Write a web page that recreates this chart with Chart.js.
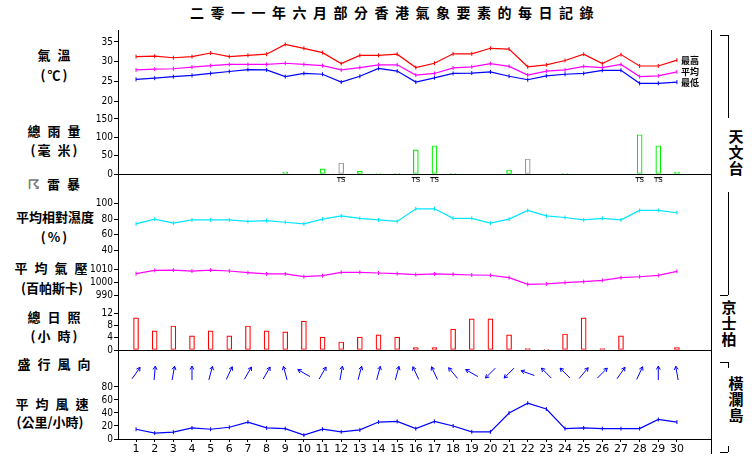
<!DOCTYPE html>
<html><head><meta charset="utf-8">
<script src="https://cdn.jsdelivr.net/npm/chart.js@4.4.0/dist/chart.umd.min.js"></script>
<style>
body{margin:0;background:#fff;width:754px;height:460px;position:relative;overflow:hidden;font-family:"Noto Sans CJK TC","Noto Sans CJK SC",sans-serif}
canvas{position:absolute;left:0}
.t{position:absolute;font-weight:bold;font-size:13px;color:#000;white-space:nowrap;text-align:center;line-height:14px;letter-spacing:2px}
.l{position:absolute;background:#000}
.v{position:absolute;font-weight:bold;font-size:15px;line-height:16px;width:18px;text-align:center}
.wk{position:absolute;left:80px;width:33px;text-align:right;font:10px "DejaVu Sans Condensed";line-height:10px;color:#000;z-index:10}
</style></head><body>
<div class="t" style="left:0;width:790px;top:5px;font-size:14px;letter-spacing:6.5px">二零一一年六月部分香港氣象要素的每日記錄</div>
<div class="t" style="left:20px;width:70px;top:48px">氣 溫</div>
<div class="t" style="left:20px;width:70px;top:68px">(℃)</div>
<div class="t" style="left:15px;width:80px;top:124px">總 雨 量</div>
<div class="t" style="left:15px;width:80px;top:143px">(毫 米)</div>
<div class="t" style="left:20px;width:70px;top:177px"><span style="color:#777">☈</span> 雷 暴</div>
<div class="t" style="left:5px;width:100px;top:210px;letter-spacing:0">平均相對濕度</div>
<div class="t" style="left:5px;width:100px;top:230px">(%)</div>
<div class="t" style="left:2px;width:100px;top:261px">平 均 氣 壓</div>
<div class="t" style="left:2px;width:100px;top:281px;letter-spacing:0">(百帕斯卡)</div>
<div class="t" style="left:15px;width:80px;top:310px">總 日 照</div>
<div class="t" style="left:15px;width:80px;top:329px">(小 時)</div>
<div class="t" style="left:10px;width:90px;top:357px">盛 行 風 向</div>
<div class="t" style="left:8px;width:90px;top:397px">平 均 風 速</div>
<div class="t" style="left:2px;width:96px;top:415px;letter-spacing:0">(公里/小時)</div>
<div class="l" style="left:711px;top:30px;width:1px;height:424px"></div>
<div class="l" style="left:118px;top:174px;width:593px;height:1px"></div>
<div class="l" style="left:118px;top:350px;width:593px;height:1px"></div>
<div class="l" style="left:720px;top:35px;width:8px;height:1px"></div>
<div class="l" style="left:728px;top:35px;width:1px;height:83px"></div>
<div class="l" style="left:728px;top:192px;width:1px;height:103px"></div>
<div class="l" style="left:720px;top:295px;width:8px;height:1px"></div>
<div class="l" style="left:720px;top:362px;width:8px;height:1px"></div>
<div class="l" style="left:728px;top:362px;width:1px;height:6px"></div>
<div class="l" style="left:720px;top:452px;width:8px;height:1px"></div>
<div class="l" style="left:728px;top:446px;width:1px;height:6px"></div>
<div class="v" style="left:727px;top:128px">天<br>文<br>台</div>
<div class="v" style="left:720px;top:299px">京<br>士<br>柏</div>
<div class="v" style="left:727px;top:375px">橫<br>瀾<br>島</div>
<div id="wlab"></div>
<canvas id="c1" width="712" height="77" style="top:30px"></canvas>
<canvas id="c2" width="712" height="79" style="top:101px"></canvas>
<canvas id="c3" width="712" height="21" style="top:174px"></canvas>
<canvas id="c4" width="712" height="67" style="top:195px"></canvas>
<canvas id="c5" width="712" height="49" style="top:262px"></canvas>
<canvas id="c6" width="712" height="51" style="top:305px"></canvas>
<canvas id="c7" width="712" height="33" style="top:350px"></canvas>
<canvas id="c9" width="712" height="21" style="top:439px"></canvas>
<canvas id="c8" width="712" height="62" style="top:383px;z-index:5"></canvas>
<script>
const days=[1,2,3,4,5,6,7,8,9,10,11,12,13,14,15,16,17,18,19,20,21,22,23,24,25,26,27,28,29,30];
const tempMax=[31.3,31.4,31.0,31.3,32.2,31.3,31.6,31.9,34.4,33.4,32.3,29.5,31.6,31.6,31.9,28.5,29.6,32.0,32.0,33.4,33.2,28.7,29.2,30.3,31.9,29.5,31.8,28.9,28.9,30.4];
const tempMean=[27.9,28.1,28.2,28.6,29.0,29.3,29.3,29.3,29.6,29.3,29.0,27.9,28.5,29.2,29.2,26.6,27.0,28.4,28.7,29.5,28.8,26.6,27.6,27.9,28.8,28.5,29.3,26.2,26.4,27.4];
const tempMin=[25.5,25.8,26.2,26.5,27.0,27.5,28.0,27.9,26.2,27.0,26.8,24.8,26.3,28.3,27.6,24.8,25.9,27.0,27.1,27.4,26.3,25.4,26.4,26.8,27.0,27.8,27.8,24.5,24.5,24.8];
const rain=[0,0,0,0,0,0,0,0,5,0,14,30,8,1,1,66,77,1,0,0,11,41,0,1,0,0,0,107,77,5];
const rainGrey=[12,22];
const thunderDays=[12,16,17,28,29];
const humidity=[74,80,75,79,79,79,77,78,76,74,80,84,81,79,77,93,93,81,81,75,80,91,84,82,79,81,79,91,91,88];
const pressure=[1006.5,1009,1009.2,1008.5,1009.2,1008.5,1007.3,1006.3,1006.3,1004.3,1005.0,1007.5,1007.5,1007,1006.5,1005.8,1006.3,1006.0,1005.5,1005.3,1003.5,998.5,998.8,999.8,1000.5,1001.5,1003.5,1004.2,1005.2,1008.3];
const sunshine=[10.4,6.2,7.8,4.6,6.2,4.6,7.8,6.2,5.9,9.4,4.2,2.6,4.2,4.9,4.2,0.8,0.8,6.8,10.1,10.1,4.9,0.5,0.2,5.2,10.4,0.5,4.6,0,0,0.8];
const windDir=[35,5,10,0,15,25,30,30,345,300,30,10,15,15,15,335,335,320,300,225,225,290,315,315,40,45,35,25,0,350];
const windSpeed=[15,9,10.5,17,15,18,26,17,16,6,15,11,14,26,27,16,27,20,11,11,40,55,46,16,17,16,16,16,30,26];
const tTicks=[20,25,30,35],rTicks=[0,50,100,150],hTicks=[40,60,80,100],pTicks=[990,1000,1010],sTicks=[0,4,8,12],wTicks=[0,20,40,60,80];

const XMIN=0.033,XMAX=31.88;
const pts=a=>a.map((v,i)=>({x:days[i],y:v}));
function yax(min,max,ticks,hide){return {type:'linear',display:true,min,max,afterFit:s=>{s.width=118;s.paddingTop=0;s.paddingBottom=0},afterBuildTicks:s=>{s.ticks=ticks?ticks.map(v=>({value:v})):[]},
 border:{display:true,color:'#000'},grid:{display:true,drawOnChartArea:false,drawTicks:true,tickLength:4,color:'#000'},
 ticks:{display:!hide,color:'#000',font:{size:10,family:'DejaVu Sans Condensed'},padding:1,autoSkip:false,source:'data',callback:v=>String(v)}};}
function xax(show){return show?{type:'linear',offset:false,min:XMIN,max:XMAX,afterFit:s=>{s.height=21;s.paddingLeft=0;s.paddingRight=0},afterBuildTicks:s=>{s.ticks=days.map(v=>({value:v}))},
 border:{display:true,color:'#000'},grid:{drawOnChartArea:false,tickLength:3,color:'#000'},ticks:{color:'#000',font:{size:11,family:'DejaVu Sans'},padding:1,maxRotation:0,autoSkip:false,source:'data'}}
 :{type:'linear',offset:false,min:XMIN,max:XMAX,display:false};}
function mk(id,type,datasets,y,showX,plugins,padB){
 return new Chart(document.getElementById(id),{type,data:{datasets},plugins:plugins||[],options:{responsive:false,animation:false,devicePixelRatio:1,
 layout:{padding:{top:0,left:0,right:0,bottom:padB||0},autoPadding:false},plugins:{legend:{display:false},tooltip:{enabled:false}},scales:{x:xax(showX),y}}});}
const ln=(d,c)=>({type:'line',data:pts(d),borderColor:c,borderWidth:1.2,pointStyle:'line',rotation:90,pointRadius:2,pointBorderColor:c,pointBorderWidth:1,tension:0});
const lbl={id:'lbl',afterDatasetsDraw(ch){const c=ch.ctx;c.save();c.font='bold 9px "Noto Sans CJK TC"';c.fillStyle='#000';c.textBaseline='middle';
 const x=ch.scales.x.getPixelForValue(30)+4,y=ch.scales.y;
 [['最高',tempMax[29]],['平均',tempMean[29]],['最低',tempMin[29]]].forEach(([t,v])=>c.fillText(t,x,y.getPixelForValue(v)));c.restore();}};
mk('c1','line',[ln(tempMax,'#ff0000'),ln(tempMean,'#ff00ff'),ln(tempMin,'#0000ff')],yax(20,38.05,tTicks),false,[lbl],6);
mk('c2','bar',[{data:pts(rain),backgroundColor:'#fff',borderColor:days.map(d=>rainGrey.includes(d)?'#999':'#00ee00'),borderWidth:1.2,barThickness:5,borderSkipped:false}],yax(0,199,rTicks),false,null,6);
const ts={id:'ts',afterDatasetsDraw(ch){const c=ch.ctx;c.save();c.font='7px DejaVu Sans';c.fillStyle='#000';c.textAlign='center';
 thunderDays.forEach(d=>{const x=ch.scales.x.getPixelForValue(d);c.fillText('TS',x,ch.scales.y.getPixelForValue(0.6));c.fillRect(x-4,ch.scales.y.getPixelForValue(0.85),8,1);});c.restore();}};
mk('c3','line',[{data:[],}],yax(0,1,null),false,[ts]);
mk('c4','line',[ln(humidity,'#00e5ff')],yax(25.7,110.5,hTicks),false);
mk('c5','line',[ln(pressure,'#ff00ff')],yax(982.9,1015.3,pTicks),false,null,6);
mk('c6','bar',[{data:pts(sunshine),backgroundColor:'#fff',borderColor:'#ff0000',borderWidth:1.2,barThickness:5,borderSkipped:false}],yax(0,14.6,sTicks),false,null,6);
const arr={id:'arr',afterDatasetsDraw(ch){const c=ch.ctx;c.save();c.strokeStyle='#0000ff';c.lineWidth=1;
 windDir.forEach((b,i)=>{const x=ch.scales.x.getPixelForValue(days[i]),y=ch.scales.y.getPixelForValue(0.3),r=b*Math.PI/180,L=7;
 const dx=Math.sin(r),dy=-Math.cos(r);const hx=x+dx*L,hy=y+dy*L,tx=x-dx*L,ty=y-dy*L;
 c.beginPath();c.moveTo(tx,ty);c.lineTo(hx,hy);
 [2.6,-2.6].forEach(a=>{c.moveTo(hx,hy);c.lineTo(hx-4*Math.sin(r+a*0.2),hy+4*Math.cos(r+a*0.2));});c.stroke();});c.restore();}};
mk('c7','line',[{data:[]}],yax(0,1,null),false,[arr]);
const xonly={min:0,max:1,afterFit:s=>{s.width=118;s.paddingTop=0;s.paddingBottom=0},afterBuildTicks:s=>{s.ticks=[]},border:{display:true,color:'#000'},grid:{display:false},ticks:{display:false}};
mk('c9','line',[{data:[]}],xonly,true);
const ch8=mk('c8','line',[ln(windSpeed,'#0000ff')],yax(0,86,wTicks,true),false,null,6);
// wind speed tick labels as HTML text placed from the chart's y scale
const wl=document.getElementById('wlab');
wTicks.forEach(v=>{const d=document.createElement('div');d.className='wk';d.textContent=String(v);
 d.style.top=(383+ch8.scales.y.getPixelForValue(v)-5)+'px';wl.appendChild(d);});
</script></body></html>
